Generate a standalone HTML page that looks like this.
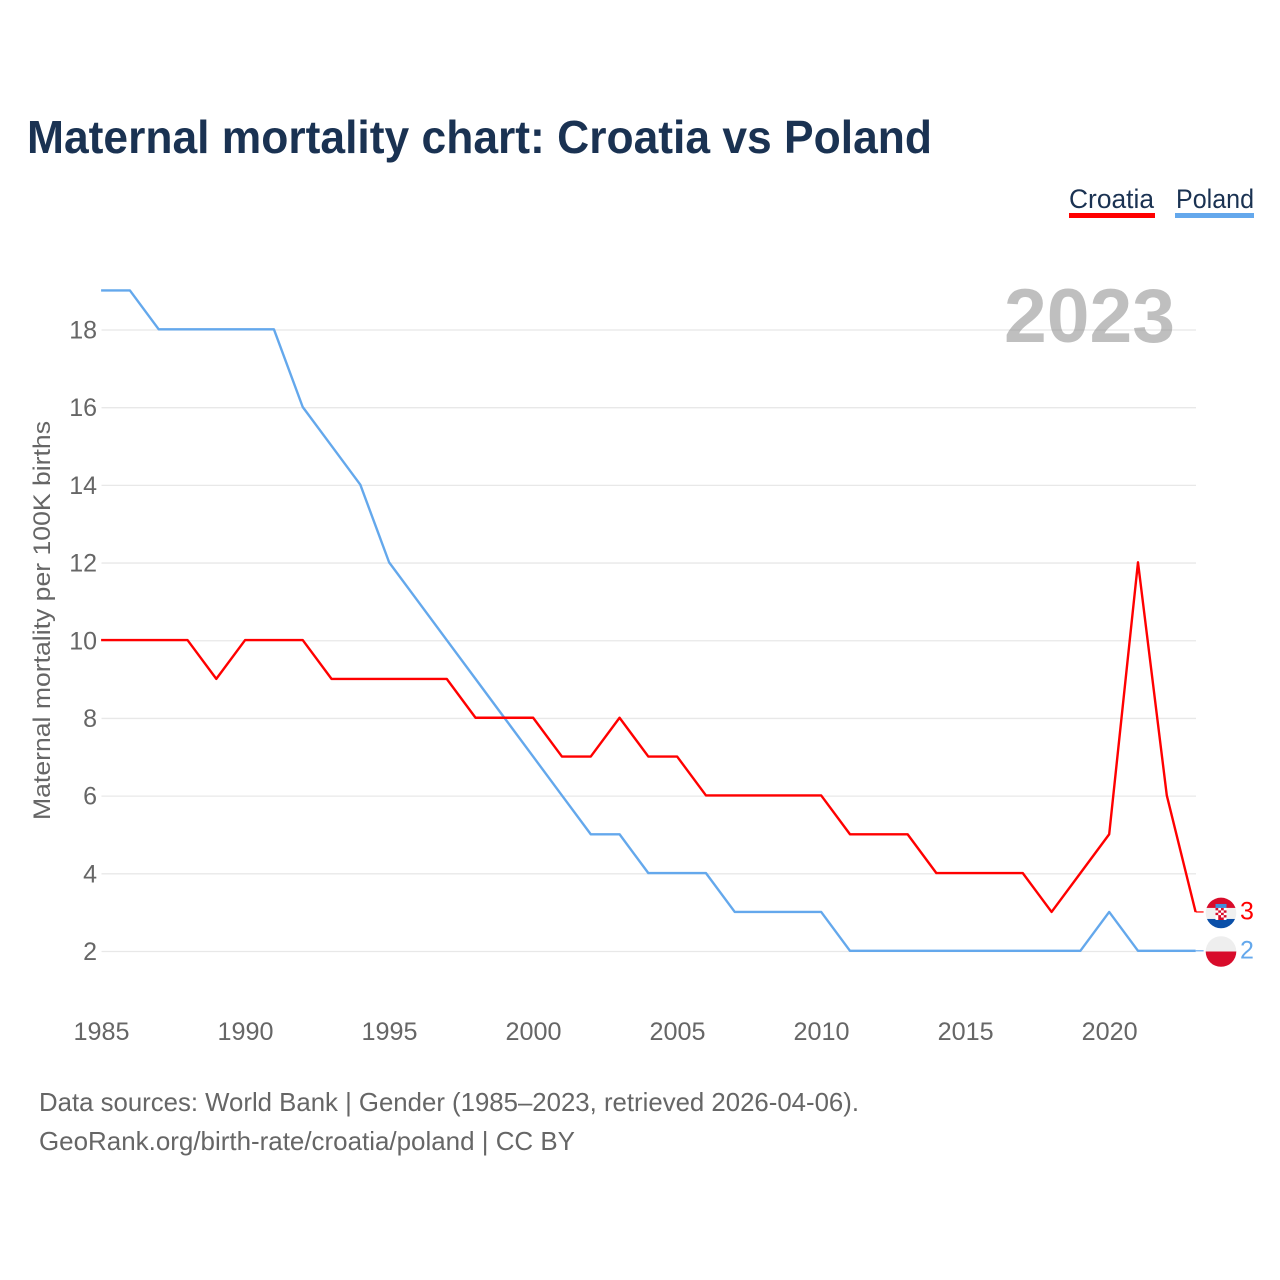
<!DOCTYPE html>
<html lang="en">
<head>
<meta charset="utf-8">
<title>Maternal mortality chart: Croatia vs Poland</title>
<style>
html,body{margin:0;padding:0;background:#fff;}
svg{display:block;}
text{font-family:"Liberation Sans",sans-serif;}
</style>
</head>
<body>
<svg id="chart" xmlns="http://www.w3.org/2000/svg" width="1280" height="1280" viewBox="0 0 1280 1280">
  <defs>
    <clipPath id="flag-clip-a"><circle cx="0" cy="0" r="15.3"/></clipPath>
  </defs>
  <text x="27" y="153" font-size="46" font-weight="700" fill="#1a3252" textLength="905" lengthAdjust="spacingAndGlyphs">Maternal mortality chart: Croatia vs Poland</text>

  <g>
    <text x="1069" y="208" font-size="27" fill="#1a3252" textLength="85" lengthAdjust="spacingAndGlyphs">Croatia</text>
    <rect x="1069" y="213" width="86" height="5" fill="#ff0000"/>
  </g>
  <g>
    <text x="1176" y="208" font-size="27" fill="#1a3252" textLength="78" lengthAdjust="spacingAndGlyphs">Poland</text>
    <rect x="1175" y="213" width="79" height="5" fill="#64a8ec"/>
  </g>

  <g id="grid"></g>
  <text id="year" x="1004" y="342" font-size="76" font-weight="700" fill="#808080" fill-opacity="0.5" textLength="171" lengthAdjust="spacingAndGlyphs"></text>
  <g id="yticks"></g>
  <g id="xticks"></g>
  <text transform="translate(50,820) rotate(-90)" font-size="24" fill="#666666" textLength="399" lengthAdjust="spacingAndGlyphs">Maternal mortality per 100K births</text>
  <g id="series" transform="translate(-0.4,-0.7)"></g>

  <g id="flag-croatia">
    <g clip-path="url(#flag-clip-a)">
      <rect x="-16" y="-16" width="32" height="11" fill="#d80c2b"/>
      <rect x="-16" y="-5" width="32" height="11" fill="#f0f0f0"/>
      <rect x="-16" y="6" width="32" height="10" fill="#0a4fa8"/>
      <rect x="-5.5" y="-9" width="11" height="4" fill="#3f8fdc"/>
      <rect x="-5.5" y="-5" width="11" height="12" fill="#ffffff"/>
      <path d="M-5.5-5h2.75v2.4h-2.75zM0-5h2.75v2.4h-2.75zM-2.75-2.6h2.75v2.4h-2.75zM2.75-2.6h2.75v2.4h-2.75zM-5.5-.2h2.75v2.4h-2.75zM0-.2h2.75v2.4h-2.75zM-2.75 2.2h2.75v2.4h-2.75zM2.75 2.2h2.75v2.4h-2.75zM-2.75 4.6h5.5v2.4h-5.5z" fill="#d80c2b"/>
    </g>
  </g>
  <g id="flag-poland">
    <g clip-path="url(#flag-clip-a)">
      <rect x="-16" y="-16" width="32" height="16" fill="#eeeeee"/>
      <rect x="-16" y="0" width="32" height="16" fill="#d80c2b"/>
    </g>
  </g>
  <text id="end-croatia" x="1240" font-size="25" fill="#ff0000"></text>
  <text id="end-poland" x="1240" font-size="25" fill="#64a8ec"></text>

  <g>
    <text x="39" y="1111" font-size="26" fill="#666666" textLength="820" lengthAdjust="spacingAndGlyphs">Data sources: World Bank | Gender (1985–2023, retrieved 2026-04-06).</text>
    <text x="39" y="1150" font-size="26" fill="#666666" textLength="536" lengthAdjust="spacingAndGlyphs">GeoRank.org/birth-rate/croatia/poland | CC BY</text>
  </g>
</svg>
<script>
const years = [1985,1986,1987,1988,1989,1990,1991,1992,1993,1994,1995,1996,1997,1998,1999,2000,2001,2002,2003,2004,2005,2006,2007,2008,2009,2010,2011,2012,2013,2014,2015,2016,2017,2018,2019,2020,2021,2022,2023];
const croatiaValues = [10,10,10,10,9,10,10,10,9,9,9,9,9,8,8,8,7,7,8,7,7,6,6,6,6,6,5,5,5,4,4,4,4,3,4,5,12,6,3];
const polandValues = [19,19,18,18,18,18,18,16,15,14,12,11,10,9,8,7,6,5,5,4,4,4,3,3,3,3,2,2,2,2,2,2,2,2,2,3,2,2,2];
const yTickLabels = [2,4,6,8,10,12,14,16,18];
const xTickLabels = [1985,1990,1995,2000,2005,2010,2015,2020];

const NS = 'http://www.w3.org/2000/svg';
const plotLeft = 101.5, plotRight = 1196;
function xScale(year) {
  return plotLeft + (year - years[0]) * (plotRight - plotLeft) / (years[years.length - 1] - years[0]);
}
function yScale(value) {
  return 951.5 - (value - 2) * (951.5 - 330) / 16;
}
function make(tag, attrs, parent, text) {
  const el = document.createElementNS(NS, tag);
  for (const k in attrs) el.setAttribute(k, attrs[k]);
  if (text !== undefined) el.textContent = text;
  parent.appendChild(el);
  return el;
}
const gridGroup = document.getElementById('grid');
const yGroup = document.getElementById('yticks');
const xGroup = document.getElementById('xticks');
const seriesGroup = document.getElementById('series');

yTickLabels.forEach(function (v) {
  const line = make('line', {x1: plotLeft, x2: plotRight, y1: yScale(v), y2: yScale(v), stroke: '#e8e8e8', 'stroke-width': 1.3}, gridGroup);
  
  
  const label = make('text', {x: 97, y: yScale(v) + 8.5, 'text-anchor': 'end', 'font-size': 25, fill: '#666666'}, yGroup, String(v));
  
  
});
xTickLabels.forEach(function (y) {
  const label = make('text', {x: xScale(y), y: 1040, 'text-anchor': 'middle', 'font-size': 25, fill: '#666666', textLength: 56, lengthAdjust: 'spacingAndGlyphs'}, xGroup, String(y));
  
  
});
function linePath(values) {
  return values.map(function (v, i) {
    return (i ? 'L' : 'M') + xScale(years[i]).toFixed(2) + ' ' + yScale(v).toFixed(2);
  }).join('');
}
const polandLine = make('path', {d: linePath(polandValues), fill: 'none', stroke: '#64a8ec', 'stroke-width': 2.4, 'stroke-linejoin': 'round'}, seriesGroup);


const croatiaLine = make('path', {d: linePath(croatiaValues), fill: 'none', stroke: '#ff0000', 'stroke-width': 2.4, 'stroke-linejoin': 'round'}, seriesGroup);



const lastCroatia = croatiaValues[croatiaValues.length - 1];
const lastPoland = polandValues[polandValues.length - 1];
const connectorC = make('line', {x1: plotRight, x2: 1204, y1: yScale(lastCroatia), y2: yScale(lastCroatia), stroke: '#ff0000', 'stroke-width': 1.2}, seriesGroup);


const connectorP = make('line', {x1: plotRight, x2: 1204, y1: yScale(lastPoland), y2: yScale(lastPoland), stroke: '#64a8ec', 'stroke-width': 1.2}, seriesGroup);



document.getElementById('flag-croatia').setAttribute('transform', 'translate(1221,' + (yScale(lastCroatia) + 0.3) + ')');
document.getElementById('flag-poland').setAttribute('transform', 'translate(1221,' + yScale(lastPoland) + ')');
const endC = document.getElementById('end-croatia');
endC.setAttribute('y', yScale(lastCroatia) + 7);
endC.textContent = String(lastCroatia);
const endP = document.getElementById('end-poland');
endP.setAttribute('y', yScale(lastPoland) + 7);
endP.textContent = String(lastPoland);
document.getElementById('year').textContent = String(years[years.length - 1]);
</script>
</body>
</html>
